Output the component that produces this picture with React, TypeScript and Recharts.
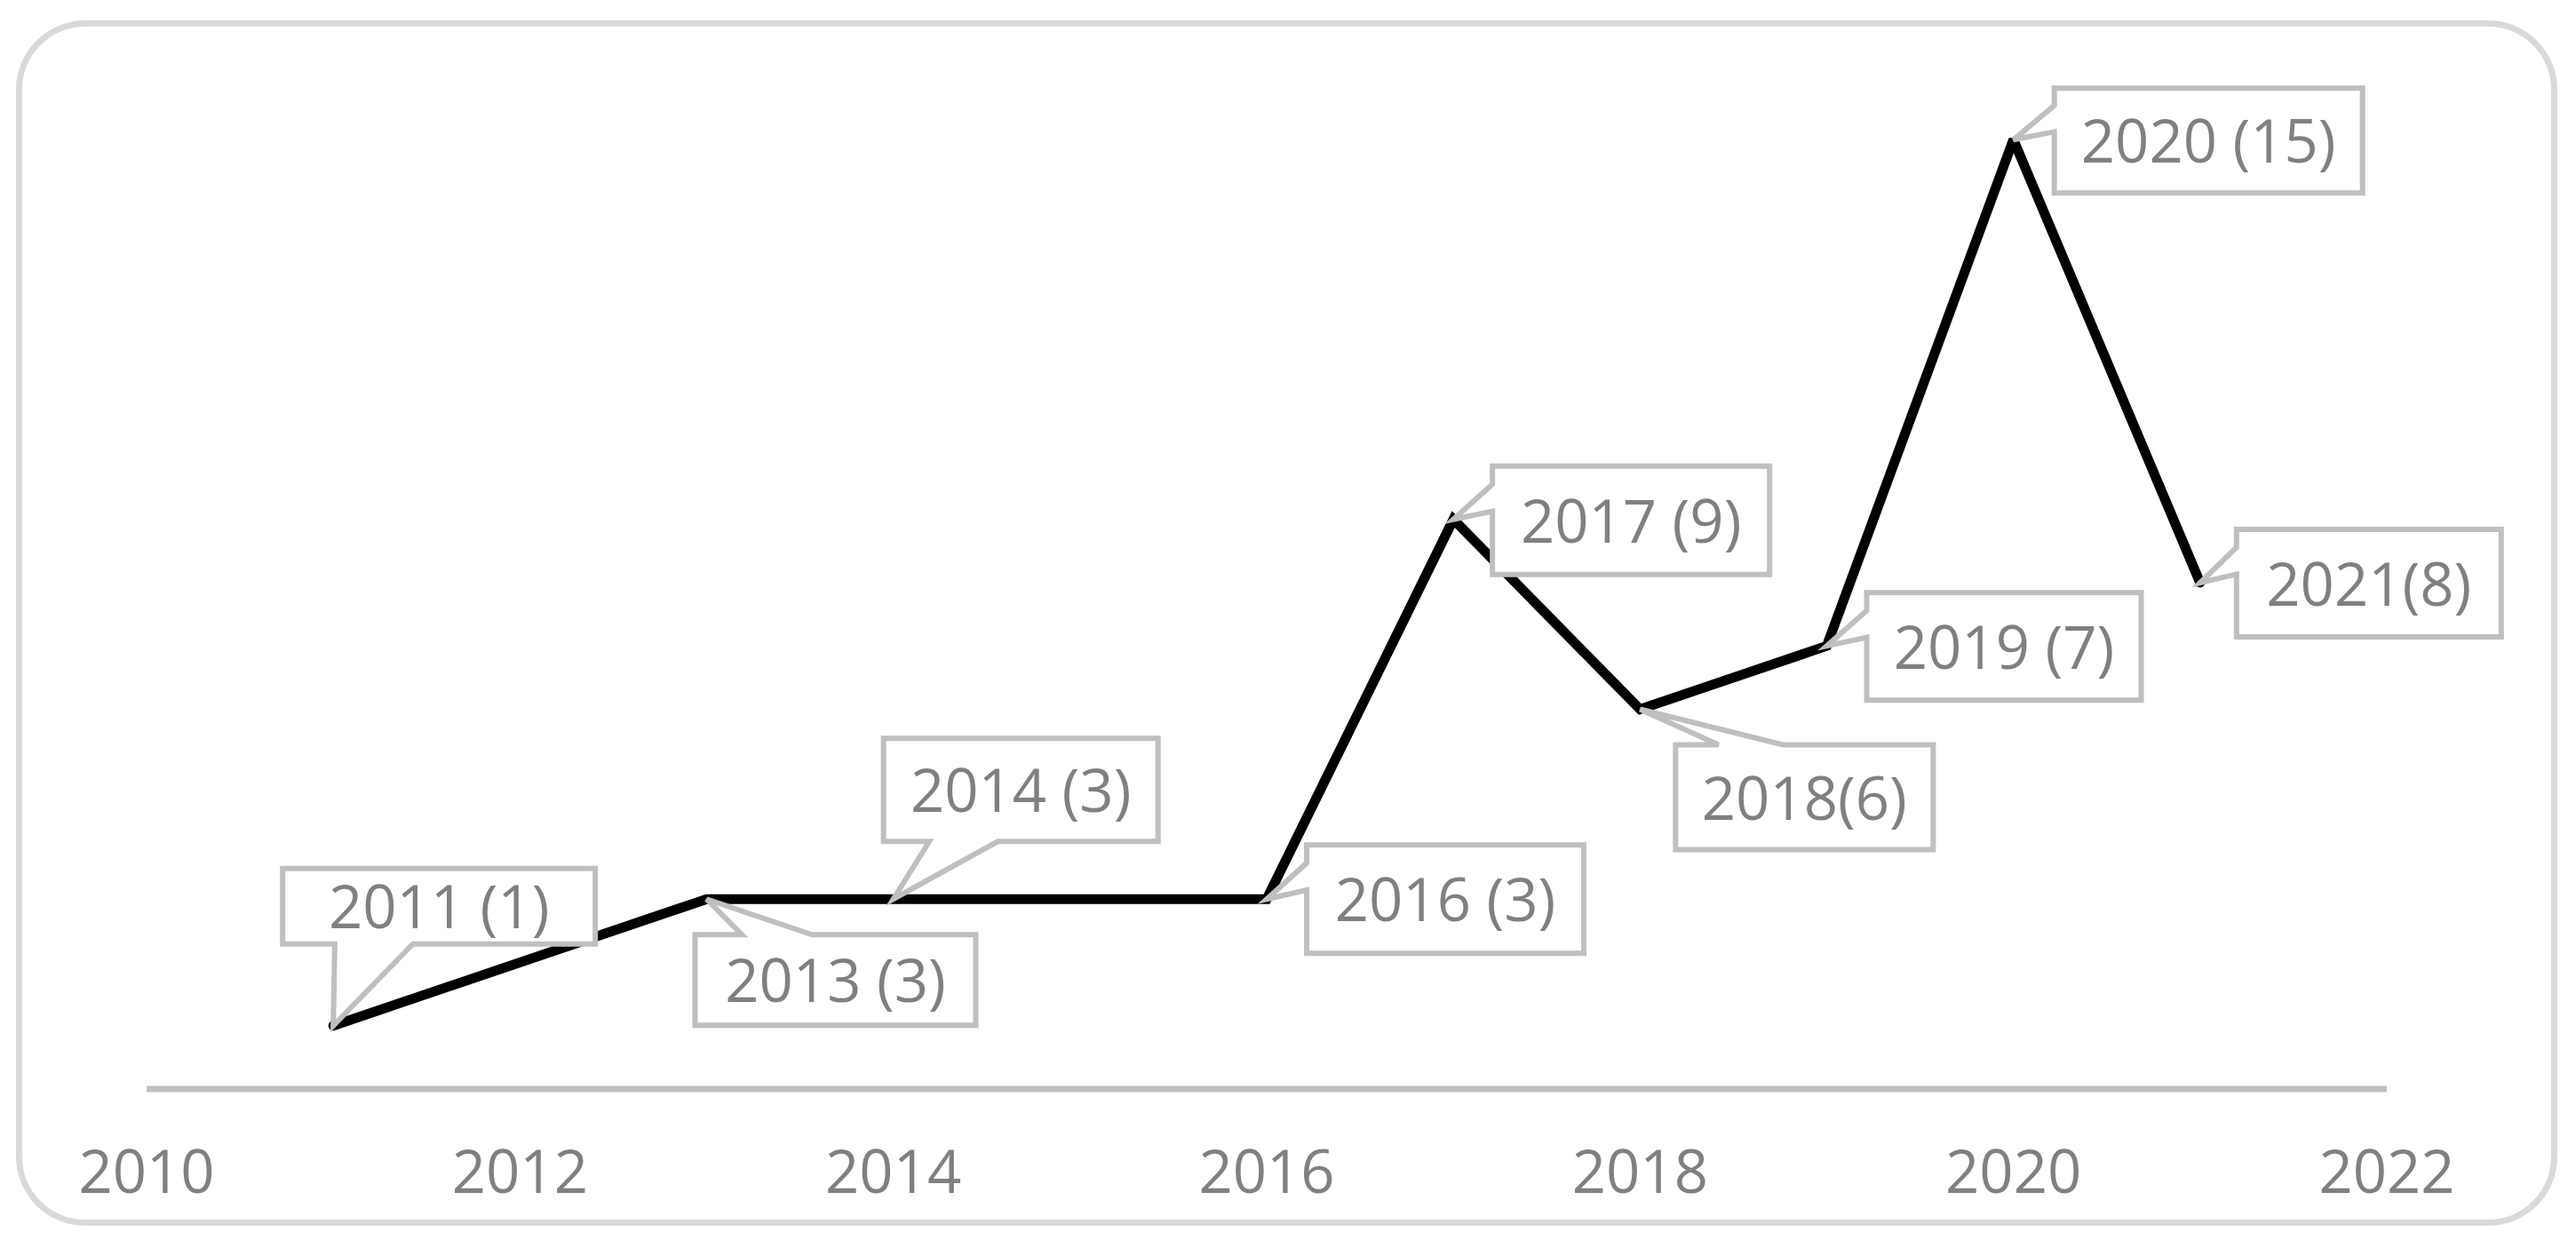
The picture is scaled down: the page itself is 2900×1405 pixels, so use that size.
import { LineChart, Line, XAxis, YAxis, LabelList } from 'recharts'

const YEARS = [2011, 2013, 2014, 2016, 2017, 2018, 2019, 2020, 2021]
const COUNTS = [1, 3, 3, 3, 9, 6, 7, 15, 8]
const LABELS = ['2011 (1)', '2013 (3)', '2014 (3)', '2016 (3)', '2017 (9)', '2018(6)', '2019 (7)', '2020 (15)', '2021(8)']
const X_TICKS = [2010, 2012, 2014, 2016, 2018, 2020, 2022]

// callout box placement relative to the point it points at: [dx, dy, w, h]
const CALLOUT_BOXES = [
  [-57, -177, 352, 85],
  [-13, 40, 316, 102],
  [-11, -181, 309, 116],
  [45, -61, 312, 122],
  [44, -60, 312, 122],
  [40, 40, 290, 118],
  [45, -60, 309, 121],
  [46, -58, 347, 118],
  [41, -60, 298, 121],
]

const FONT = '"Open Sans", "Noto Sans", sans-serif'
const TEXT_GREY = '#808080'
const BOX_GREY = '#bfbfbf'

const data = YEARS.map((year, i) => ({ year, count: COUNTS[i], label: LABELS[i] }))

// excel style wedgeRectCallout outline, tip at (px, py)
function calloutPath(px: number, py: number, l: number, t: number, w: number, h: number) {
  const r = l + w
  const b = t + h
  const dx = px - (l + w / 2)
  const dy = py - (t + h / 2)
  const dq = (dx * h) / w
  const xa = l + (w * (dx > 0 ? 7 : 2)) / 12
  const xb = l + (w * (dx > 0 ? 10 : 5)) / 12
  const ya = t + (h * (dy > 0 ? 7 : 2)) / 12
  const yb = t + (h * (dy > 0 ? 10 : 5)) / 12
  if (Math.abs(dy) > Math.abs(dq)) {
    if (dy < 0) return `M${l},${t} L${xa},${t} L${px},${py} L${xb},${t} L${r},${t} L${r},${b} L${l},${b} Z`
    return `M${l},${t} L${r},${t} L${r},${b} L${xb},${b} L${px},${py} L${xa},${b} L${l},${b} Z`
  }
  if (dx < 0) return `M${l},${t} L${r},${t} L${r},${b} L${l},${b} L${l},${yb} L${px},${py} L${l},${ya} Z`
  return `M${l},${t} L${r},${t} L${r},${ya} L${px},${py} L${r},${yb} L${r},${b} L${l},${b} Z`
}

function Callout(props: any) {
  const px = props.x ?? props.viewBox?.x
  const py = props.y ?? props.viewBox?.y
  const i = LABELS.indexOf(props.value)
  if (i < 0 || px == null || py == null) return null
  const [dx, dy, w, h] = CALLOUT_BOXES[i]
  const l = px + dx
  const t = py + dy
  return (
    <g>
      <path d={calloutPath(px, py, l, t, w, h)} fill="#fff" stroke={BOX_GREY} strokeWidth={6} />
      <text x={l + w / 2} y={t + h / 2 + 25} textAnchor="middle" fill={TEXT_GREY} fontSize={67} fontFamily={FONT}>
        {props.value}
      </text>
    </g>
  )
}

function YearTick({ x, y, payload }: any) {
  return (
    <text x={x} y={y + 117} textAnchor="middle" fill={TEXT_GREY} fontSize={67} fontFamily={FONT}>
      {payload.value}
    </text>
  )
}

export default function App() {
  return (
    <div style={{ position: 'absolute', left: 0, top: 0, width: 2900, height: 1405, background: '#fff' }}>
      <div
        style={{
          position: 'absolute',
          left: 18,
          top: 23,
          width: 2861,
          height: 1357,
          border: '7px solid #d9d9d9',
          borderRadius: 78,
          boxSizing: 'border-box',
        }}
      />
      <div style={{ position: 'absolute', left: 0, top: 0 }}>
        <LineChart width={2900} height={1405} data={data} margin={{ top: 86, right: 213, left: 165, bottom: 79 }}>
          <XAxis
            dataKey="year"
            type="number"
            domain={[2010, 2022]}
            ticks={X_TICKS}
            interval={0}
            axisLine={{ stroke: BOX_GREY, strokeWidth: 7 }}
            tickLine={false}
            tickSize={0}
            tickMargin={0}
            tick={<YearTick />}
            height={100}
          />
          <YAxis hide type="number" domain={[0, 16]} />
          <Line
            type="linear"
            dataKey="count"
            stroke="#000"
            strokeWidth={11}
            strokeLinejoin="miter"
            strokeMiterlimit={2}
            strokeLinecap="round"
            dot={false}
            activeDot={false}
            isAnimationActive={false}
          >
            <LabelList dataKey="label" content={<Callout />} />
          </Line>
        </LineChart>
      </div>
    </div>
  )
}
